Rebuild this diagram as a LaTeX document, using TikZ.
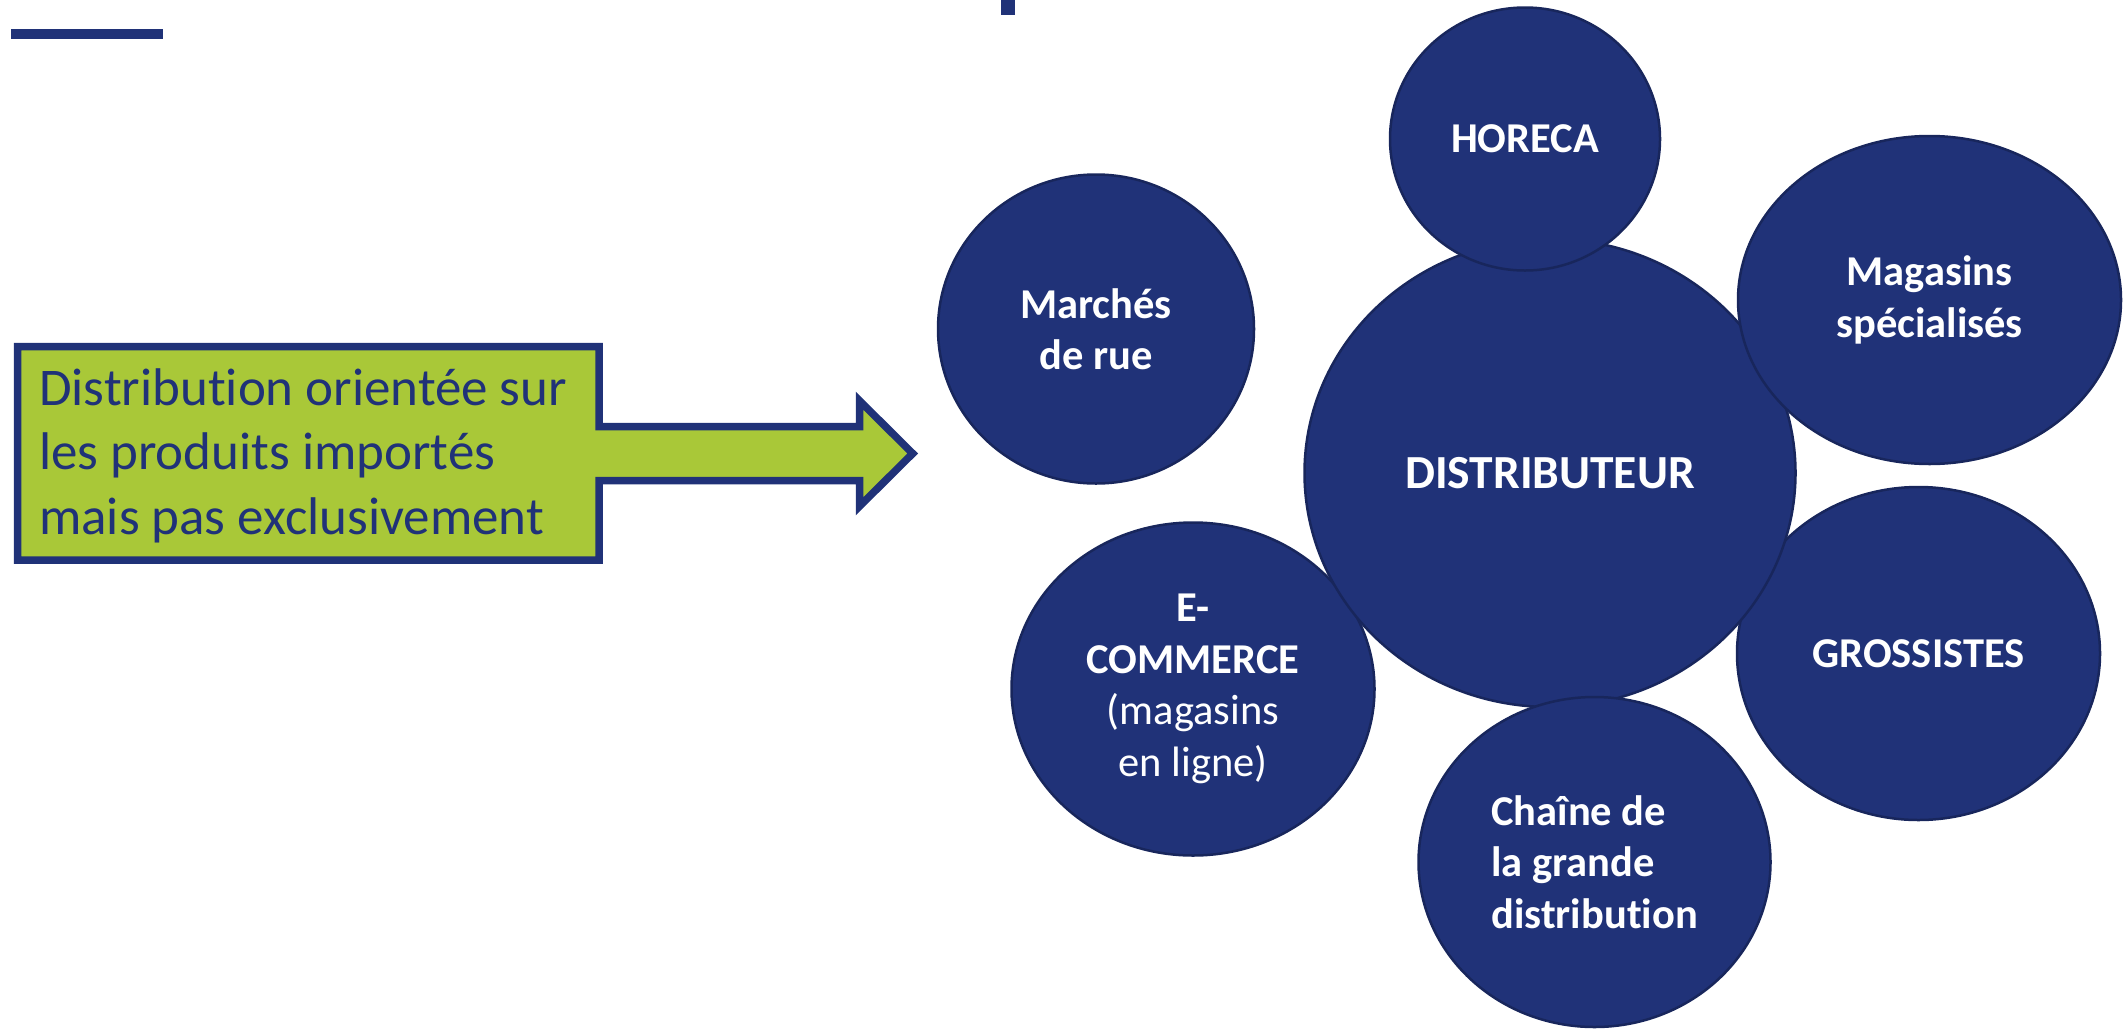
\documentclass[tikz,border=0pt]{standalone}
\usepackage{fontspec}
\setmainfont{Carlito}[Ligatures=NoCommon]
\usetikzlibrary{shapes.geometric}
\definecolor{navy}{RGB}{32,50,120}
\definecolor{navyline}{RGB}{24,38,92}
\definecolor{lime}{RGB}{169,200,56}
\begin{document}
\begin{tikzpicture}[x=1pt,y=-1pt,
  bubble/.style={ellipse, draw=navyline, line width=2.5pt, fill=navy, text=white,
    inner sep=0pt, align=center, font=\fontsize{42.5}{51.5}\selectfont\bfseries},
  boxline/.style={anchor=base west, text=navy, inner sep=0pt,
    font=\fontsize{53}{64}\selectfont}
]
\useasboundingbox (0,0) rectangle (2124,1029);
% decorative bars
\fill[navy] (11,29) rectangle (163,39);
\fill[navy] (1001,0) rectangle (1015,15);
% green block arrow
\draw[draw=navy, fill=lime, line width=7.5pt, miter limit=10]
  (17.5,346.5) -- (599,346.5) -- (599,426.5) -- (859.5,426.5) -- (859.5,400.7)
  -- (912.7,453.5) -- (859.5,506.3) -- (859.5,480.5) -- (599,480.5) -- (599,560)
  -- (17.5,560) -- cycle;
\node[boxline] (t1) at (39,405) {Distribution orientée sur};
\node[boxline] (t2) at (39,469.5) {les produits importés};
\node[boxline] (t3) at (39,534) {mais pas exclusivement};
% bubbles (back)
\node[bubble, minimum width=363pt, minimum height=333pt] (ecom) at (1193,689)
  {E-\\COMMERCE\\{\mdseries(magasins}\\{\mdseries en ligne)}};
\node[bubble, minimum width=363pt, minimum height=333pt] (gros) at (1918.5,653.5) {GROSSISTES};
\node[bubble, minimum width=316pt, minimum height=309pt] (marche) at (1096,329) {Marchés\\de rue};
% centre
\node[bubble, minimum width=491pt, minimum height=468pt,
  font=\fontsize{47.5}{56}\selectfont\bfseries] (dist) at (1550,473) {DISTRIBUTEUR};
% bubbles (front)
\node[bubble, minimum width=270pt, minimum height=263pt] (horeca) at (1525,139) {HORECA};
\node[bubble, minimum width=383pt, minimum height=328pt] (mag) at (1929.5,300) {Magasins\\spécialisés};
\node[bubble, align=left, minimum width=352pt, minimum height=330pt] (chaine) at (1594.5,862)
  {Chaîne de\\la grande\\distribution};
\end{tikzpicture}
\end{document}
